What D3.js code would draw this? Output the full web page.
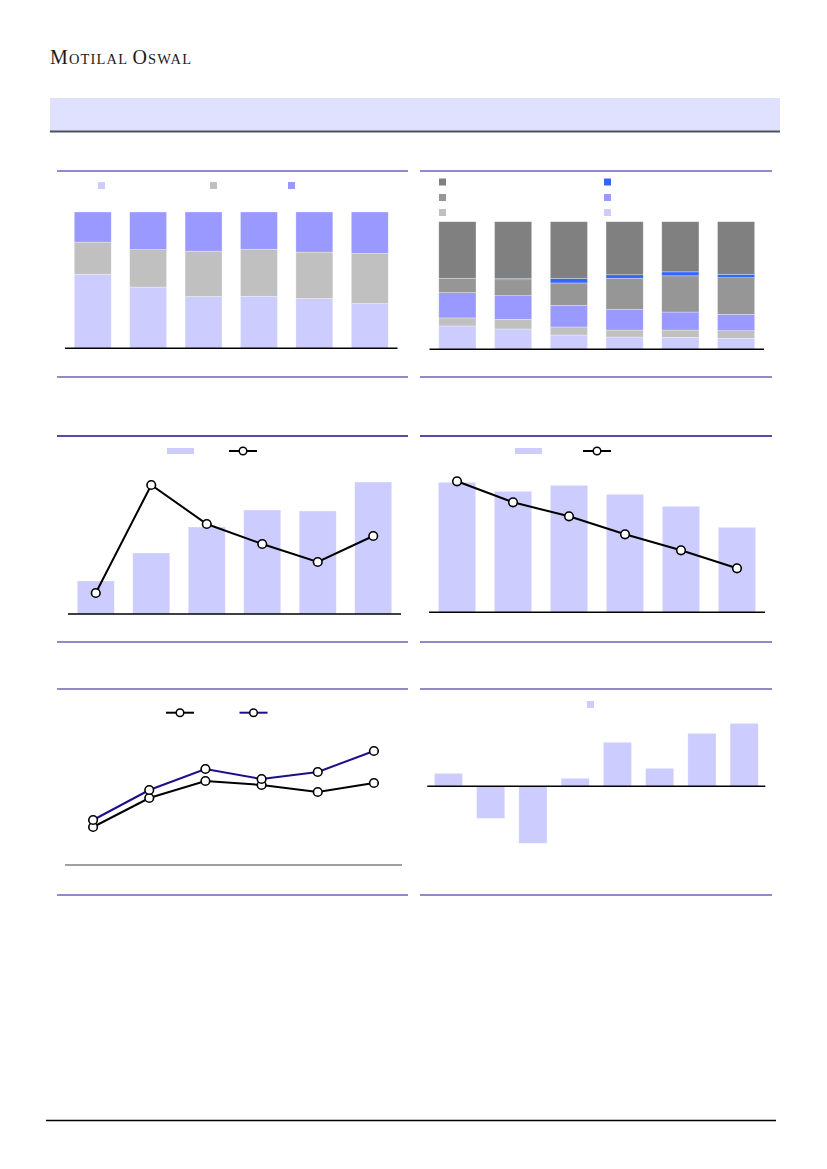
<!DOCTYPE html>
<html>
<head>
<meta charset="utf-8">
<script src="https://cdn.jsdelivr.net/npm/d3@7/dist/d3.min.js"></script>
<style>
  html, body { margin: 0; padding: 0; background: #fff; }
  svg { display: block; }
</style>
</head>
<body>
<svg id="page" width="827" height="1169"></svg>
<script>
// six periods shared by the first five charts
const periods = ['P1', 'P2', 'P3', 'P4', 'P5', 'P6'];

// chart 1: mix (%), bottom to top
const mixA = [54.4, 44.9, 38.0, 38.2, 36.5, 32.8];
const mixB = [23.5, 27.5, 33.3, 34.5, 34.1, 36.8];
const mixC = [22.1, 27.6, 28.7, 27.3, 29.4, 30.4];

// chart 2: six-part mix (%), bottom to top
const segA = [18.3, 15.9, 11.2, 9.6, 9.4, 8.6];
const segB = [6.3, 7.6, 6.3, 5.5, 5.7, 6.0];
const segC = [19.8, 18.5, 17.0, 16.2, 14.1, 12.8];
const segD = [11.3, 12.5, 17.5, 24.3, 28.4, 28.7];
const segE = [0.0, 0.8, 3.4, 2.8, 3.1, 2.7];
const segF = [44.3, 44.7, 44.6, 41.6, 39.3, 41.2];

// chart 3: bars and line (own axis)
const valBars3 = [33, 61, 87, 104, 103, 132];
const valLine3 = [21, 129, 90, 70, 52, 78];

// chart 4: bars and line
const valBars4 = [130, 121, 127, 118, 106, 85];
const valLine4 = [131, 110, 96, 78, 62, 44];

// chart 5: two lines
const lineBlack5 = [38, 67, 84, 80, 73, 82];
const lineNavy5 = [45, 75, 96, 86, 93, 114];

// chart 6: eight signed bars
const periods6 = ['Q1', 'Q2', 'Q3', 'Q4', 'Q5', 'Q6', 'Q7', 'Q8'];
const valBars6 = [13, -32, -57, 8, 44, 18, 53, 63];

const lavender = '#ccccff';
const periwinkle = '#9999ff';
const silver = '#c0c0c0';
const midGray = '#969696';
const darkGray = '#808080';
const blue = '#3366ff';
const navy = '#1c0f8c';
const rule = '#6b63b5';

const svg = d3.select('#page');

// ---------- header ----------
// small caps drawn by hand: big initials, smaller rest
const logo = svg.append('text')
    .attr('x', 50)
    .attr('y', 64)
    .attr('font-family', '"Liberation Serif", "DejaVu Serif", serif')
    .attr('fill', '#1a1a1a')
    .attr('textLength', 141)
    .attr('lengthAdjust', 'spacing');
[['M', 20], ['OTILAL', 14.5], [' ', 14.5], ['O', 20], ['SWAL', 14.5]].forEach(([t, size]) => {
    logo.append('tspan').attr('font-size', size).text(t);
});

svg.append('rect')
    .attr('x', 50).attr('y', 98)
    .attr('width', 730).attr('height', 33)
    .attr('fill', '#e0e0ff');
svg.append('line')
    .attr('x1', 50).attr('x2', 780)
    .attr('y1', 131.5).attr('y2', 131.5)
    .attr('stroke', '#505058').attr('stroke-width', 2);

// footer rule
svg.append('line')
    .attr('x1', 46).attr('x2', 776)
    .attr('y1', 1120.5).attr('y2', 1120.5)
    .attr('stroke', '#000').attr('stroke-width', 1.5);

// ---------- panel rules ----------
const hRule = (x1, x2, y, color) => {
    svg.append('line')
        .attr('x1', x1).attr('x2', x2)
        .attr('y1', y).attr('y2', y)
        .attr('stroke', color).attr('stroke-width', 1.3);
};
hRule(57, 408, 171, rule);
hRule(420, 772, 171, rule);
hRule(57, 408, 377, rule);
hRule(420, 772, 377, rule);
hRule(57, 408, 436, navy);
hRule(420, 772, 436, navy);
hRule(57, 408, 642, rule);
hRule(420, 772, 642, rule);
hRule(57, 408, 689, rule);
hRule(420, 772, 689, rule);
hRule(57, 408, 895, rule);
hRule(420, 772, 895, rule);

const legendSquare = (x, y, color) => {
    svg.append('rect')
        .attr('x', x).attr('y', y)
        .attr('width', 7).attr('height', 7)
        .attr('fill', color);
};

const legendBar = (x, y, color) => {
    svg.append('rect')
        .attr('x', x).attr('y', y)
        .attr('width', 27).attr('height', 6)
        .attr('fill', color);
};

const legendLine = (x, y, color) => {
    svg.append('line')
        .attr('x1', x).attr('x2', x + 28)
        .attr('y1', y).attr('y2', y)
        .attr('stroke', color).attr('stroke-width', 2);
    svg.append('circle')
        .attr('cx', x + 14).attr('cy', y).attr('r', 3.8)
        .attr('fill', '#fff').attr('stroke', '#000').attr('stroke-width', 1.5);
};

const baseLine = (x1, x2, y, color) => {
    svg.append('line')
        .attr('x1', x1).attr('x2', x2)
        .attr('y1', y).attr('y2', y)
        .attr('stroke', color || '#000').attr('stroke-width', 1.5);
};

// stacked 100% bars
const stacked = (x0, x1, yBottom, yTop, series, colors) => {
    const x = d3.scaleBand().domain(periods).range([x0, x1]).paddingInner(0.333).paddingOuter(0.167);
    const y = d3.scaleLinear().domain([0, 100]).range([yBottom, yTop]);
    const rows = periods.map((p, i) => {
        const row = { period: p };
        series.forEach((s, k) => { row['s' + k] = s[i]; });
        return row;
    });
    const keys = series.map((s, k) => 's' + k);
    const stack = d3.stack().keys(keys)(rows);
    const g = svg.append('g');
    g.selectAll('g')
        .data(stack)
        .join('g')
        .attr('fill', (d, k) => colors[k])
        .selectAll('rect')
        .data(d => d)
        .join('rect')
        .attr('x', d => x(d.data.period))
        .attr('width', x.bandwidth())
        .attr('y', d => y(d[1]))
        .attr('height', d => Math.max(0, y(d[0]) - y(d[1])))
        .attr('stroke', '#ffffff')
        .attr('stroke-opacity', 0.5)
        .attr('stroke-width', 0.6);
    baseLine(x0, x1, yBottom);
};

// chart 1
legendSquare(98, 182, lavender);
legendSquare(210, 182, silver);
legendSquare(288, 182, periwinkle);
stacked(65, 397.5, 348.3, 212, [mixA, mixB, mixC], [lavender, silver, periwinkle]);

// chart 2
legendSquare(439, 178.5, darkGray);
legendSquare(439, 194, midGray);
legendSquare(439, 209, silver);
legendSquare(604, 178.5, blue);
legendSquare(604, 194, periwinkle);
legendSquare(604, 209, lavender);
stacked(429.5, 764, 349.3, 221.7, [segA, segB, segC, segD, segE, segF],
    [lavender, silver, periwinkle, midGray, blue, darkGray]);

// bars with an overlaid line on its own scale
const barLine = (x0, x1, yBottom, bars, line, barMax, lineMax, plotH) => {
    const x = d3.scaleBand().domain(periods).range([x0, x1]).paddingInner(0.333).paddingOuter(0.167);
    const yBar = d3.scaleLinear().domain([0, barMax]).range([yBottom, yBottom - plotH]);
    const yLine = d3.scaleLinear().domain([0, lineMax]).range([yBottom, yBottom - plotH]);
    const g = svg.append('g');
    g.selectAll('rect')
        .data(bars)
        .join('rect')
        .attr('x', (d, i) => x(periods[i]))
        .attr('width', x.bandwidth())
        .attr('y', d => yBar(d))
        .attr('height', d => yBottom - yBar(d))
        .attr('fill', lavender)
        .attr('stroke', '#ffffff').attr('stroke-opacity', 0.5).attr('stroke-width', 0.6);
    baseLine(x0, x1, yBottom);
    const path = d3.line()
        .x((d, i) => x(periods[i]) + x.bandwidth() / 2)
        .y(d => yLine(d));
    g.append('path')
        .datum(line)
        .attr('d', path)
        .attr('fill', 'none')
        .attr('stroke', '#000')
        .attr('stroke-width', 2);
    g.selectAll('circle')
        .data(line)
        .join('circle')
        .attr('cx', (d, i) => x(periods[i]) + x.bandwidth() / 2)
        .attr('cy', d => yLine(d))
        .attr('r', 4.3)
        .attr('fill', '#fff')
        .attr('stroke', '#000')
        .attr('stroke-width', 1.6);
};

// chart 3
legendBar(167, 448, lavender);
legendLine(229, 451, '#000');
barLine(68, 401, 614, valBars3, valLine3, 140, 140, 140);

// chart 4
legendBar(515, 448, lavender);
legendLine(583, 451, '#000');
barLine(429, 765, 612.3, valBars4, valLine4, 140, 140, 140);

// chart 5: two lines
legendLine(166, 712.7, '#000');
legendLine(239.5, 712.7, navy);
{
    const x = d3.scalePoint().domain(periods).range([65, 402]).padding(0.5);
    const y = d3.scaleLinear().domain([0, 120]).range([865, 745]);
    baseLine(65, 402, 865, '#808080');
    const path = d3.line()
        .x((d, i) => x(periods[i]))
        .y(d => y(d));
    [[lineBlack5, '#000'], [lineNavy5, navy]].forEach(([vals, color]) => {
        svg.append('path')
            .datum(vals)
            .attr('d', path)
            .attr('fill', 'none')
            .attr('stroke', color)
            .attr('stroke-width', 2);
    });
    [lineBlack5, lineNavy5].forEach(vals => {
        svg.append('g')
            .selectAll('circle')
            .data(vals)
            .join('circle')
            .attr('cx', (d, i) => x(periods[i]))
            .attr('cy', d => y(d))
            .attr('r', 4.3)
            .attr('fill', '#fff')
            .attr('stroke', '#000')
            .attr('stroke-width', 1.6);
    });
}

// chart 6: signed bars
legendSquare(587, 701, lavender);
{
    const x = d3.scaleBand().domain(periods6).range([427.3, 765.3]).paddingInner(0.333).paddingOuter(0.167);
    const y = d3.scaleLinear().domain([-60, 70]).range([846.3, 716.3]);
    svg.append('g')
        .selectAll('rect')
        .data(valBars6)
        .join('rect')
        .attr('x', (d, i) => x(periods6[i]))
        .attr('width', x.bandwidth())
        .attr('y', d => y(Math.max(0, d)))
        .attr('height', d => Math.abs(y(d) - y(0)))
        .attr('fill', lavender)
        .attr('stroke', '#ffffff').attr('stroke-opacity', 0.5).attr('stroke-width', 0.6);
    baseLine(427.3, 765.3, y(0));
}
</script>
</body>
</html>
